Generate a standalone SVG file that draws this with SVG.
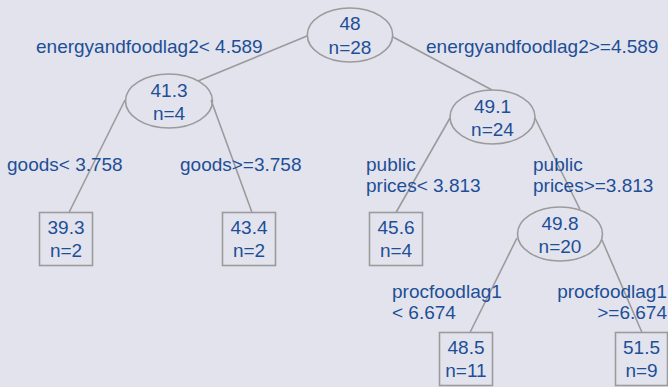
<svg xmlns="http://www.w3.org/2000/svg" width="668" height="387" viewBox="0 0 668 387">
<style>
  text { font-family: "Liberation Sans", Arial, sans-serif; font-size: 19px; fill: #1d4f96; }
  .c { text-anchor: middle; }
  .e { text-anchor: end; }
  .node { fill: none; stroke: #9b9b9b; stroke-width: 1.6; }
  .edge { stroke: #9b9b9b; stroke-width: 1.6; fill: none; }
</style>
<rect x="0" y="0" width="668" height="387" fill="#e3e3ee"/>
<g id="connectors">
  <line class="edge" x1="307" y1="36" x2="198" y2="81"/>
  <line class="edge" x1="393" y1="37" x2="492" y2="90"/>
  <line class="edge" x1="125" y1="100" x2="69" y2="212.5"/>
  <line class="edge" x1="211" y1="100" x2="252" y2="212.5"/>
  <line class="edge" x1="450" y1="118" x2="396" y2="212.5"/>
  <line class="edge" x1="535" y1="118" x2="580" y2="209.5"/>
  <line class="edge" x1="517" y1="238" x2="470" y2="332.5"/>
  <line class="edge" x1="602" y1="240" x2="642" y2="332.5"/>
</g>
<g id="labels">
  <text x="36" y="52.5">energyandfoodlag2&lt; 4.589</text>
  <text x="426" y="52.5">energyandfoodlag2&gt;=4.589</text>
  <text x="7" y="171">goods&lt; 3.758</text>
  <text x="180" y="171">goods&gt;=3.758</text>
  <text x="366" y="171">public</text>
  <text x="366" y="192">prices&lt; 3.813</text>
  <text x="533" y="171">public</text>
  <text x="533" y="192">prices&gt;=3.813</text>
  <text x="392" y="298">procfoodlag1</text>
  <text x="392" y="319">&lt; 6.674</text>
  <text class="e" x="667" y="298">procfoodlag1</text>
  <text class="e" x="667" y="319">&gt;=6.674</text>
</g>
<g id="n1">
  <ellipse class="node" cx="350" cy="35" rx="42.7" ry="27"/>
  <text class="c" x="350" y="29.5">48</text>
  <text class="c" x="350" y="53.5">n=28</text>
</g>
<g id="n2">
  <ellipse class="node" cx="169" cy="101" rx="43.5" ry="27"/>
  <text class="c" x="169" y="96.5">41.3</text>
  <text class="c" x="169" y="119.5">n=4</text>
</g>
<g id="n3">
  <ellipse class="node" cx="492.5" cy="117" rx="42.5" ry="27"/>
  <text class="c" x="492.5" y="112.5">49.1</text>
  <text class="c" x="492.5" y="135.5">n=24</text>
</g>
<g id="n4">
  <rect class="node" x="39.5" y="212.5" width="53" height="53"/>
  <text class="c" x="66" y="233.5">39.3</text>
  <text class="c" x="66" y="257">n=2</text>
</g>
<g id="n5">
  <rect class="node" x="222.5" y="212.5" width="53" height="53"/>
  <text class="c" x="249" y="233.5">43.4</text>
  <text class="c" x="249" y="257">n=2</text>
</g>
<g id="n6">
  <rect class="node" x="369.5" y="212.5" width="53" height="53"/>
  <text class="c" x="396" y="233.5">45.6</text>
  <text class="c" x="396" y="257">n=4</text>
</g>
<g id="n7">
  <ellipse class="node" cx="560" cy="234" rx="42.5" ry="27"/>
  <text class="c" x="560" y="230">49.8</text>
  <text class="c" x="560" y="253">n=20</text>
</g>
<g id="n8">
  <rect class="node" x="439.5" y="332.5" width="53" height="53"/>
  <text class="c" x="466" y="353.5">48.5</text>
  <text class="c" x="466" y="377">n=11</text>
</g>
<g id="n9">
  <rect class="node" x="615.5" y="332.5" width="52" height="53"/>
  <text class="c" x="641.5" y="353.5">51.5</text>
  <text class="c" x="641.5" y="377">n=9</text>
</g>
</svg>
